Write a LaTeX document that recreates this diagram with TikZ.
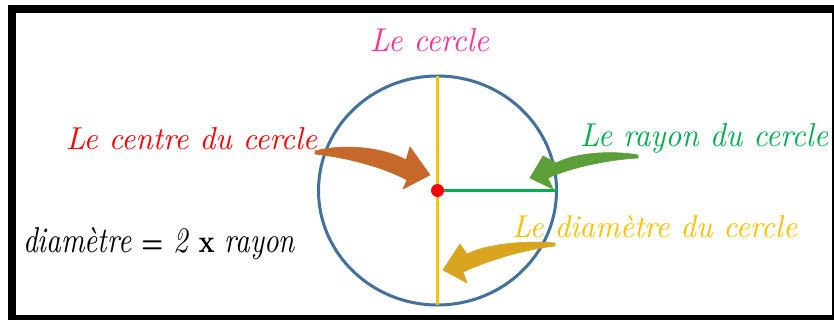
\documentclass[tikz,border=0pt]{standalone}
\usepackage{graphicx}
\usetikzlibrary{shapes.geometric}
\definecolor{circblue}{HTML}{41719C}
\definecolor{diamyellow}{HTML}{FFC000}
\definecolor{raygreen}{HTML}{00B050}
\definecolor{titlepink}{HTML}{FF3399}
\definecolor{arrbrown}{HTML}{C5682A}
\definecolor{arrgreen}{HTML}{5C9E38}
\definecolor{arrgold}{HTML}{D9A520}
\tikzset{
  lbl/.style={anchor=base west, inner sep=0pt, outer sep=0pt},
  brush/.style={draw=#1, fill=#1, line width=0.6pt, line join=round},
}
\newcommand{\hand}[3]{\resizebox{#1}{#2}{\itshape #3}}
\begin{document}
\begin{tikzpicture}[x=1pt,y=-1pt]
\useasboundingbox (0,0) rectangle (834,320);
\fill[white] (0,0) rectangle (834,320);
\fill[black] (8,5) rectangle (834,320);
\fill[white] (16,13) rectangle (832,315);

% circle
\node[ellipse, draw=circblue, line width=3pt, minimum width=238pt, minimum height=229pt, inner sep=0pt, outer sep=0pt] (circ) at (437.5,190.5) {};
\draw[diamyellow, line width=3pt] (circ.north) -- (circ.south);
\node[circle, fill=red, minimum size=13pt, inner sep=0pt] (centre) at (circ.center) {};
\draw[raygreen, line width=3pt] (centre.east) -- (circ.east);

% labels
\node[lbl, text=titlepink] (ttl) at (370,52) {\hand{119pt}{23pt}{Le cercle}};
\node[lbl, text=red] (lcentre) at (66,150) {\hand{251pt}{22pt}{Le centre du cercle}};
\node[lbl, text=raygreen] (lrayon) at (580,147) {\hand{248pt}{23pt}{Le rayon du cercle}};
\node[lbl, text=diamyellow] (ldiam) at (512,238) {\hand{285pt}{22pt}{Le diamètre du cercle}};
\node[lbl, text=black] (formula) at (23,252) {\resizebox{272pt}{25pt}{\itshape diamètre {\upshape\bfseries\footnotesize =} 2 {\upshape\bfseries\small x} rayon}};

% brush arrows
\fill[brush=arrbrown] (315,151) .. controls (345,143) and (385,148) .. (406,160) -- (410,147) -- (430,175) -- (403,189) -- (407,180) .. controls (385,168) and (350,158) .. (315,154) -- cycle;
\fill[brush=arrgreen] (638,155) .. controls (610,150) and (575,153) .. (556,163) -- (543,156) -- (530,178) -- (553,189) -- (548,178) .. controls (570,168) and (605,160) .. (638,158) -- cycle;
\fill[brush=arrgold] (555,243) .. controls (520,240) and (485,245) .. (467,254) -- (460,244) -- (443,270) -- (467,283) -- (463,272) .. controls (485,262) and (520,250) .. (555,246) -- cycle;
\end{tikzpicture}
\end{document}
